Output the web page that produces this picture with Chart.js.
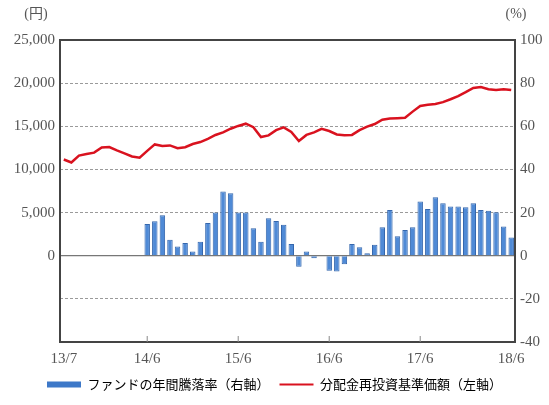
<!DOCTYPE html>
<html>
<head>
<meta charset="utf-8">
<script src="https://cdn.jsdelivr.net/npm/chart.js@4"></script>
<style>
  html, body { margin: 0; padding: 0; background: #fff; }
  #wrap { width: 549px; height: 405px; }
</style>
</head>
<body>
<div id="wrap"><canvas id="fundChart"></canvas></div>
<script>
// 月ラベル (13/7 〜 18/6)
const months = [
  "13/7", "13/8", "13/9", "13/10", "13/11", "13/12", "14/1", "14/2", "14/3", "14/4", "14/5", "14/6",
  "14/7", "14/8", "14/9", "14/10", "14/11", "14/12", "15/1", "15/2", "15/3", "15/4", "15/5", "15/6",
  "15/7", "15/8", "15/9", "15/10", "15/11", "15/12", "16/1", "16/2", "16/3", "16/4", "16/5", "16/6",
  "16/7", "16/8", "16/9", "16/10", "16/11", "16/12", "17/1", "17/2", "17/3", "17/4", "17/5", "17/6",
  "17/7", "17/8", "17/9", "17/10", "17/11", "17/12", "18/1", "18/2", "18/3", "18/4", "18/5", "18/6",
]
const shownMonths = ["13/7", "14/6", "15/6", "16/6", "17/6", "18/6"]
const tickMarkMonths = ["14/6", "15/6", "16/6", "17/6"]

// 分配金再投資基準価額 (円, 左軸)
const navValues = [
  11150, 10800, 11600, 11780, 11950, 12550, 12600, 12200, 11870, 11500,
  11350, 12150, 12900, 12720, 12780, 12450, 12580, 12950, 13170, 13550,
  13990, 14300, 14720, 15040, 15300, 14900, 13750, 13950, 14550, 14870,
  14350, 13300, 14000, 14290, 14700, 14450, 14050, 13950, 14000, 14550,
  14960, 15260, 15770, 15900, 15945, 16000, 16700, 17350, 17490, 17580,
  17800, 18130, 18490, 18950, 19450, 19550, 19290, 19220, 19300, 19200,
]

// ファンドの年間騰落率 (%, 右軸) 14/6 〜 18/6
const returnStart = "14/6"
const annualReturns = [
  14.7, 16.0, 18.8, 7.4, 4.3, 5.9, 1.9, 6.5, 15.2, 20.0,
  29.8, 29.0, 20.0, 20.0, 12.7, 6.5, 17.4, 16.1, 14.4, 5.4,
  -5.1, 2.0, -1.2, -0.3, -7.0, -7.3, -3.9, 5.4, 3.9, 1.1,
  5.1, 13.2, 21.2, 9.0, 11.9, 13.2, 25.1, 21.7, 27.1, 24.3,
  22.8, 22.8, 22.5, 24.3, 21.2, 20.9, 20.2, 13.5, 8.5,
]

// 軸の目盛り
const leftTicks = { min: -10000, max: 25000, step: 5000 }
const rightTicks = { min: -40, max: 100, step: 20 }

const serif = '"Liberation Serif", "DejaVu Serif", serif'
const jp = '"Noto Sans CJK JP", sans-serif'
const textColor = "#555"

// 騰落率データを月ラベルに合わせる
const startIdx = months.indexOf(returnStart)
const returnData = months.map((m, i) => (i >= startIdx ? annualReturns[i - startIdx] : null))

// 枠・ゼロ線・目盛り・単位の描画
const framePlugin = {
  id: "frame",
  beforeDatasetsDraw(chart) {
    const { ctx, chartArea, scales } = chart
    const y0 = scales.y.getPixelForValue(0)
    ctx.save()
    ctx.strokeStyle = "#777"
    ctx.lineWidth = 1.2
    ctx.beginPath()
    ctx.moveTo(chartArea.left, y0)
    ctx.lineTo(chartArea.right, y0)
    ctx.stroke()
    ctx.restore()
  },
  afterDraw(chart) {
    const { ctx, chartArea, scales } = chart
    ctx.save()
    ctx.strokeStyle = "#444"
    ctx.lineWidth = 2
    ctx.strokeRect(chartArea.left, chartArea.top, chartArea.right - chartArea.left, chartArea.bottom - chartArea.top)

    // 下端の内向き目盛り
    ctx.strokeStyle = "#888"
    ctx.lineWidth = 1
    tickMarkMonths.forEach((m) => {
      const x = scales.x.getPixelForValue(months.indexOf(m))
      ctx.beginPath()
      ctx.moveTo(x, chartArea.bottom)
      ctx.lineTo(x, chartArea.bottom - 6)
      ctx.stroke()
    })

    // 単位
    ctx.fillStyle = textColor
    ctx.font = "14px " + serif + ", " + jp
    ctx.textBaseline = "middle"
    ctx.textAlign = "center"
    ctx.fillText("(円)", 36, 14)
    ctx.fillText("(%)", 516, 14)
    ctx.restore()
  },
}

const ctx = document.getElementById("fundChart")
new Chart(ctx, {
  type: "bar",
  data: {
    labels: months,
    datasets: [
      {
        type: "line",
        label: "分配金再投資基準価額（左軸）",
        data: navValues,
        yAxisID: "y",
        borderColor: "#d9121f",
        borderWidth: 2.5,
        pointRadius: 0,
        tension: 0,
        order: 0,
      },
      {
        type: "bar",
        label: "ファンドの年間騰落率（右軸）",
        data: returnData,
        yAxisID: "y1",
        backgroundColor: "#4f8ad6",
        borderColor: "#3567ad",
        borderWidth: 1,
        barPercentage: 0.72,
        categoryPercentage: 1.0,
        order: 1,
      },
    ],
  },
  options: {
    responsive: true,
    maintainAspectRatio: false,
    animation: false,
    layout: {
      padding: { top: 40, left: 0, right: 0, bottom: 4 },
    },
    plugins: {
      tooltip: { enabled: false },
      legend: {
        position: "bottom",
        labels: {
          usePointStyle: true,
          pointStyleWidth: 34,
          padding: 10,
          color: "#444",
          font: { family: jp, size: 13 },
          generateLabels: (chart) => {
            const ds = chart.data.datasets
            return [
              { text: ds[1].label, pointStyle: "line", strokeStyle: "#3d78c8", fillStyle: "#3d78c8", lineWidth: 6, datasetIndex: 1 },
              { text: ds[0].label, pointStyle: "line", strokeStyle: "#d9121f", fillStyle: "#d9121f", lineWidth: 2, datasetIndex: 0 },
            ]
          },
        },
      },
    },
    scales: {
      x: {
        offset: true,
        grid: { display: false, drawTicks: false },
        border: { display: false },
        ticks: {
          autoSkip: false,
          maxRotation: 0,
          padding: 8,
          color: textColor,
          font: { family: serif, size: 15 },
          callback: function (value) {
            const label = this.getLabelForValue(value)
            return shownMonths.includes(label) ? label : ""
          },
        },
        afterFit: (scale) => { scale.height = 26 },
      },
      y: {
        position: "left",
        min: leftTicks.min,
        max: leftTicks.max,
        border: { display: false, dash: [3, 2] },
        grid: {
          drawTicks: false,
          color: (c) => (c.tick && (c.tick.value === 0 || c.tick.value === leftTicks.max || c.tick.value === leftTicks.min) ? "rgba(0,0,0,0)" : "#9a9a9a"),
          lineWidth: 1,
        },
        ticks: {
          stepSize: leftTicks.step,
          padding: 5,
          color: textColor,
          font: { family: serif, size: 15 },
          callback: (v) => (v < 0 ? "" : v.toLocaleString("en-US")),
        },
        afterFit: (scale) => { scale.width = 60 },
      },
      y1: {
        position: "right",
        min: rightTicks.min,
        max: rightTicks.max,
        border: { display: false },
        grid: { drawOnChartArea: false, drawTicks: false },
        ticks: {
          stepSize: rightTicks.step,
          padding: 5,
          color: textColor,
          font: { family: serif, size: 15 },
        },
        afterFit: (scale) => { scale.width = 34 },
      },
    },
  },
  plugins: [framePlugin],
})
</script>
</body>
</html>
